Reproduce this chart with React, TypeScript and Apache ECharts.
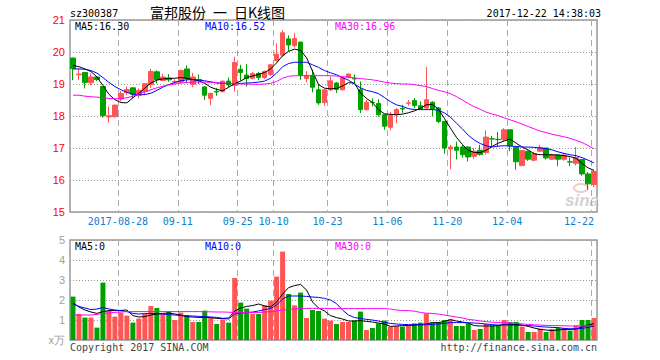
import React, { useEffect, useRef } from 'react';
import * as echarts from 'echarts';

const dates = [
  '2017-08-16','2017-08-17','2017-08-18','2017-08-21','2017-08-22','2017-08-23','2017-08-24','2017-08-25',
  '2017-08-28','2017-08-29','2017-08-30','2017-08-31','2017-09-01','2017-09-04','2017-09-05','2017-09-06','2017-09-07','2017-09-08',
  '2017-09-11','2017-09-12','2017-09-13','2017-09-14','2017-09-15','2017-09-18','2017-09-19','2017-09-20','2017-09-21','2017-09-22',
  '2017-09-25','2017-09-26','2017-09-27','2017-09-28','2017-09-29','2017-10-09',
  '2017-10-10','2017-10-11','2017-10-12','2017-10-13','2017-10-16','2017-10-17','2017-10-18','2017-10-19','2017-10-20',
  '2017-10-23','2017-10-24','2017-10-25','2017-10-26','2017-10-27','2017-10-30','2017-10-31','2017-11-01','2017-11-02','2017-11-03',
  '2017-11-06','2017-11-07','2017-11-08','2017-11-09','2017-11-10','2017-11-13','2017-11-14','2017-11-15','2017-11-16','2017-11-17',
  '2017-11-20','2017-11-21','2017-11-22','2017-11-23','2017-11-24','2017-11-27','2017-11-28','2017-11-29','2017-11-30','2017-12-01',
  '2017-12-04','2017-12-05','2017-12-06','2017-12-07','2017-12-08','2017-12-11','2017-12-12','2017-12-13','2017-12-14','2017-12-15',
  '2017-12-18','2017-12-19','2017-12-20','2017-12-21',
  '2017-12-22',
];

const labelDates = ['2017-08-28','2017-09-11','2017-09-25','2017-10-10','2017-10-23','2017-11-06','2017-11-20','2017-12-04','2017-12-22'];

const open = [
  19.81,19.29,19.36,19.04,19.22,18.92,17.97,17.98,18.53,18.73,
  18.88,18.65,18.77,18.99,19.38,19.11,19.19,19.06,19.06,19.47,
  18.99,19.14,18.91,18.55,18.77,18.76,19.09,18.95,19.46,19.28,
  19.18,19.33,19.20,19.30,19.73,19.90,20.41,20.20,20.31,19.17,
  19.27,18.82,18.42,18.82,19.03,18.82,19.20,19.17,18.82,18.20,
  18.43,18.39,18.04,17.65,18.04,18.23,18.40,18.48,18.32,18.25,
  18.43,18.25,17.83,16.97,17.03,17.03,17.03,16.74,16.93,16.86,
  17.29,17.27,17.26,17.57,17.02,16.45,16.90,16.62,16.90,17.00,
  16.65,16.78,16.65,16.57,16.52,16.64,16.19,15.86,
];
const close = [
  19.48,19.31,19.05,19.22,19.14,18.01,18.01,18.34,18.70,18.83,
  18.68,18.80,19.01,19.39,19.14,19.22,19.13,19.08,19.42,19.16,
  19.22,19.13,18.65,18.71,18.75,19.09,18.97,19.67,19.36,19.17,
  19.33,19.20,19.39,19.60,19.93,20.60,20.22,20.42,19.27,19.27,
  18.90,18.41,18.82,19.10,18.83,19.20,19.31,19.16,18.20,18.43,
  18.42,18.04,17.68,18.02,18.20,18.22,18.41,18.33,18.22,18.51,
  18.22,17.83,17.00,17.03,16.93,16.79,16.72,16.90,16.80,17.34,
  17.28,17.26,17.57,17.07,16.57,16.92,16.65,16.82,17.02,16.69,
  16.78,16.65,16.78,16.56,16.70,16.19,15.88,16.27,
];
const low = [
  19.12,19.12,18.86,18.96,19.09,17.95,17.79,17.95,18.45,18.65,
  18.55,18.55,18.65,18.88,19.02,19.09,19.07,18.98,19.00,19.02,
  18.90,19.00,18.50,18.34,18.63,18.74,18.90,18.76,19.10,18.92,
  19.15,19.12,19.16,19.25,19.70,19.85,20.03,20.15,19.13,19.05,
  18.74,18.35,18.32,18.78,18.72,18.80,19.18,19.03,18.09,18.17,
  18.30,17.98,17.57,17.55,17.78,18.10,18.32,18.24,18.20,18.20,
  17.99,17.78,16.82,16.34,16.64,16.70,16.58,16.66,16.76,16.79,
  17.03,17.03,17.22,16.90,16.32,16.43,16.60,16.58,16.87,16.64,
  16.62,16.43,16.60,16.43,16.45,16.13,15.70,15.78,
];
const high = [
  19.83,19.48,19.38,19.33,19.24,18.93,18.29,18.36,18.78,18.92,
  18.88,18.86,19.02,19.47,19.43,19.32,19.31,19.15,19.45,19.58,
  19.35,19.30,18.93,18.72,18.88,19.10,19.20,19.85,19.60,19.63,
  19.37,19.38,19.42,19.62,20.27,20.68,20.52,20.60,20.32,19.40,
  19.45,19.00,18.83,19.24,19.06,19.22,19.33,19.30,19.08,18.50,
  18.55,18.52,18.04,18.13,18.25,18.35,18.50,18.56,18.46,19.53,
  18.46,18.28,17.85,17.10,17.20,17.10,17.05,17.00,17.10,17.55,
  17.38,17.50,17.62,17.57,17.02,16.93,16.92,16.88,17.10,17.00,
  16.82,16.78,16.85,16.70,17.03,16.64,16.25,16.32,
];

const ma5 = [
  19.58,19.54,19.47,19.39,19.22,18.95,18.68,18.51,18.42,18.41,
  18.57,18.71,18.87,19.03,19.12,19.16,19.17,19.18,19.20,19.18,
  19.14,19.10,19.02,18.90,18.83,18.79,18.90,19.01,19.09,19.20,
  19.25,19.30,19.36,19.47,19.66,19.88,20.02,20.09,20.05,19.82,
  19.40,18.98,18.87,18.85,18.86,18.94,19.04,19.03,18.72,18.55,
  18.42,18.20,18.07,18.05,18.04,18.06,18.10,18.16,18.24,18.35,
  18.36,18.22,17.93,17.63,17.34,17.11,16.93,16.86,16.86,16.93,
  17.05,17.15,17.22,17.28,17.15,17.03,16.94,16.82,16.79,16.79,
  16.79,16.78,16.76,16.73,16.68,16.52,16.38,16.30,
];
const ma10 = [
  19.47,19.47,19.46,19.42,19.34,19.20,19.05,18.92,18.82,18.74,
  18.68,18.66,18.67,18.71,18.80,18.90,18.98,19.05,19.10,19.13,
  19.14,19.12,19.10,19.07,19.03,19.02,19.01,19.01,19.02,19.03,
  19.04,19.06,19.09,19.18,19.34,19.54,19.64,19.68,19.68,19.68,
  19.60,19.52,19.42,19.35,19.29,19.20,19.12,19.00,18.88,18.80,
  18.76,18.70,18.58,18.45,18.35,18.30,18.23,18.20,18.20,18.20,
  18.20,18.18,18.10,17.97,17.78,17.60,17.40,17.25,17.14,17.07,
  17.03,17.06,17.07,17.06,17.05,17.03,17.03,17.02,17.00,16.98,
  16.94,16.88,16.83,16.79,16.76,16.70,16.62,16.53,
];
const ma30 = [
  18.65,18.65,18.62,18.60,18.59,18.57,18.55,18.54,18.54,18.57,
  18.62,18.69,18.75,18.82,18.88,18.93,18.97,19.00,19.03,19.05,
  19.06,19.06,19.06,19.05,19.04,19.03,19.02,19.01,19.00,19.00,
  18.99,18.99,19.00,19.02,19.08,19.18,19.24,19.26,19.26,19.26,
  19.26,19.26,19.26,19.26,19.25,19.23,19.21,19.19,19.17,19.15,
  19.13,19.10,19.06,19.03,19.01,19.00,19.00,18.98,18.95,18.92,
  18.86,18.80,18.76,18.70,18.61,18.50,18.39,18.29,18.21,18.12,
  18.06,18.01,17.94,17.88,17.82,17.75,17.67,17.60,17.53,17.48,
  17.43,17.39,17.35,17.30,17.24,17.17,17.08,16.97,
];

const volume = [
  2.17,1.30,1.12,1.12,0.62,2.87,1.47,1.17,1.37,1.22,
  0.87,1.07,1.30,1.70,1.60,1.30,1.43,1.00,1.37,1.25,
  0.90,0.90,1.47,1.12,0.80,1.03,0.87,3.10,1.87,1.57,
  1.30,1.30,1.73,1.97,3.17,4.42,2.30,1.73,2.37,1.10,
  1.50,1.45,1.07,0.97,0.80,0.90,0.90,0.97,1.42,0.50,
  0.60,0.83,0.97,0.67,0.70,0.67,0.75,0.83,0.87,1.33,
  0.87,0.87,1.00,1.03,0.70,0.70,0.83,0.50,0.55,0.80,
  0.73,0.72,1.00,0.90,0.90,0.67,0.40,0.40,0.57,0.40,
  0.55,0.60,0.60,0.47,0.73,1.00,1.00,1.10,
];
const volMa5 = [
  1.85,1.65,1.50,1.40,1.33,1.42,1.47,1.47,1.48,1.50,
  1.22,1.15,1.17,1.25,1.30,1.33,1.35,1.30,1.25,1.17,
  1.15,1.13,1.13,1.12,1.08,1.08,1.10,1.45,1.60,1.68,
  1.72,1.80,1.70,1.65,1.90,2.30,2.62,2.72,2.78,2.50,
  1.90,1.60,1.45,1.22,1.12,1.05,0.95,0.95,0.97,0.93,
  0.90,0.85,0.80,0.68,0.70,0.72,0.72,0.75,0.77,0.80,
  0.87,0.87,0.92,1.02,0.95,0.90,0.85,0.72,0.70,0.70,
  0.70,0.72,0.78,0.78,0.78,0.75,0.68,0.60,0.53,0.50,
  0.47,0.50,0.53,0.53,0.55,0.65,0.75,0.82,
];
const volMa10 = [
  1.80,1.68,1.60,1.52,1.55,1.62,1.55,1.50,1.47,1.42,
  1.33,1.30,1.32,1.33,1.32,1.30,1.27,1.25,1.22,1.20,
  1.20,1.18,1.17,1.15,1.13,1.08,1.05,1.30,1.35,1.37,
  1.40,1.45,1.52,1.57,1.75,2.05,2.20,2.20,2.20,2.18,
  2.15,2.13,2.08,2.00,1.82,1.50,1.25,1.12,1.08,1.03,
  1.00,0.95,0.88,0.83,0.80,0.78,0.77,0.76,0.76,0.76,
  0.78,0.80,0.83,0.87,0.87,0.87,0.86,0.85,0.83,0.80,
  0.77,0.75,0.75,0.75,0.74,0.73,0.72,0.70,0.67,0.65,
  0.63,0.62,0.58,0.56,0.56,0.58,0.63,0.70,
];
const volMa30 = [
  1.25,1.25,1.25,1.25,1.28,1.33,1.35,1.38,1.40,1.42,
  1.42,1.42,1.42,1.42,1.42,1.42,1.42,1.42,1.42,1.42,
  1.42,1.42,1.41,1.41,1.40,1.40,1.39,1.37,1.37,1.37,
  1.37,1.37,1.40,1.42,1.45,1.50,1.53,1.55,1.58,1.58,
  1.58,1.58,1.58,1.57,1.57,1.57,1.57,1.57,1.57,1.57,
  1.57,1.57,1.57,1.55,1.50,1.47,1.47,1.44,1.38,1.34,
  1.33,1.30,1.25,1.20,1.15,1.10,1.03,1.00,0.95,0.92,
  0.89,0.87,0.86,0.85,0.83,0.80,0.78,0.76,0.75,0.73,
  0.72,0.72,0.71,0.70,0.70,0.70,0.71,0.73,
];

const UP = '#ff5555';
const DOWN = '#00a000';
const MONO = '"DejaVu Sans Mono", monospace';

export default function App() {
  const ref = useRef<HTMLDivElement>(null);

  useEffect(() => {
    const chart = echarts.init(ref.current as HTMLDivElement, undefined, { renderer: 'svg' });
    const candles = dates.map((_, i) => [open[i], close[i], low[i], high[i]]);
    const vols = volume.map((v, i) => ({ value: v, itemStyle: { color: close[i] >= open[i] ? UP : DOWN } }));
    const isLabel = (_i: number, v: string) => labelDates.includes(v);
    const dateFont = { fontFamily: MONO, fontSize: 10, color: '#0a82d0' };

    const splitX = { show: true, interval: isLabel, lineStyle: { type: [6, 4], color: '#aaaaaa', width: 1 } };
    const splitY = { show: true, lineStyle: { type: [1, 2], color: '#999999', width: 1 } };
    const line = (data: number[], color: string, x: number) => ({
      type: 'line', data, xAxisIndex: x, yAxisIndex: x, symbol: 'none', showSymbol: false,
      lineStyle: { width: 1, color }, itemStyle: { color }, z: 4, silent: true,
    });
    const txt = (text: string, x: number, y: number, fill: string, font: string, align = 'left') => ({
      type: 'text', x, y, silent: true,
      style: { text, fill, font, align, verticalAlign: 'middle' },
    });

    chart.setOption({
      animation: false,
      backgroundColor: '#ffffff',
      grid: [
        { left: 70, top: 20, width: 527, height: 192, show: true, borderColor: '#9a9a9a', borderWidth: 1.5 },
        { left: 70, top: 240, width: 527, height: 100, show: true, borderColor: '#9a9a9a', borderWidth: 1.5 },
      ],
      xAxis: [
        {
          type: 'category', gridIndex: 0, data: dates, boundaryGap: true,
          axisLine: { show: false }, axisTick: { show: false },
          axisLabel: {
            interval: isLabel, margin: 4, ...dateFont,
            alignMaxLabel: 'right',
            formatter: (v: string) => {
              const t = v === labelDates[0] ? v : v.slice(5);
              return v === labelDates[labelDates.length - 1] ? `{e|${t}}` : `{c|${t}}`;
            },
            rich: { c: { ...dateFont, padding: [0, 6, 0, 0] }, e: { ...dateFont } },
          },
          splitLine: splitX,
        },
        {
          type: 'category', gridIndex: 1, data: dates, boundaryGap: true,
          axisLine: { show: false }, axisTick: { show: false }, axisLabel: { show: false },
          splitLine: splitX,
        },
      ],
      yAxis: [
        {
          type: 'value', gridIndex: 0, min: 15, max: 21, interval: 1,
          axisLine: { show: false }, axisTick: { show: false },
          axisLabel: { color: '#ff0000', fontSize: 11, fontFamily: '"Liberation Sans", Arial', margin: 5 },
          splitLine: splitY,
        },
        {
          type: 'value', gridIndex: 1, min: 0, max: 5, interval: 1,
          axisLine: { show: false }, axisTick: { show: false },
          axisLabel: {
            color: '#a0a0a0', fontSize: 11, fontFamily: '"Liberation Sans", Arial', margin: 5,
            formatter: (v: number) => (v === 0 ? 'x万' : String(v)),
          },
          splitLine: splitY,
        },
      ],
      series: [
        {
          type: 'candlestick', xAxisIndex: 0, yAxisIndex: 0, data: candles, barWidth: 5, silent: true,
          itemStyle: { color: UP, color0: DOWN, borderColor: UP, borderColor0: DOWN, borderWidth: 1 },
          z: 3,
        },
        line(ma5, '#000000', 0),
        line(ma10, '#0000ff', 0),
        line(ma30, '#ff00ff', 0),
        { type: 'bar', xAxisIndex: 1, yAxisIndex: 1, data: vols, barWidth: 5, silent: true, z: 3 },
        line(volMa5, '#000000', 1),
        line(volMa10, '#0000ff', 1),
        line(volMa30, '#ff00ff', 1),
      ],
      graphic: [
        txt('sz300387', 70, 13, '#000', `10px ${MONO}`),
        txt('富邦股份\u2002一\u2002日K线图', 150, 12, '#000', '14px "Noto Sans CJK SC"'),
        txt('2017-12-22 14:38:03', 601, 13, '#000', `10px ${MONO}`, 'right'),
        txt('MA5:16.30', 75, 26, '#000000', `10px ${MONO}`),
        txt('MA10:16.52', 205, 26, '#0000ff', `10px ${MONO}`),
        txt('MA30:16.96', 335, 26, '#ff00ff', `10px ${MONO}`),
        txt('MA5:0', 75, 246, '#000000', `10px ${MONO}`),
        txt('MA10:0', 205, 246, '#0000ff', `10px ${MONO}`),
        txt('MA30:0', 335, 246, '#ff00ff', `10px ${MONO}`),
        txt('Copyright 2017 SINA.COM', 70, 347, '#444', `10px ${MONO}`),
        txt('http://finance.sina.com.cn', 597, 347, '#444', `10px ${MONO}`, 'right'),
        {
          type: 'ellipse', silent: true, z: 1,
          shape: { cx: 581, cy: 188, rx: 7, ry: 4 },
          style: { fill: 'none', stroke: '#f2caca', lineWidth: 2 },
        },
        txt('sina', 565, 200, '#d2d2d2', 'italic bold 17px "Liberation Sans", Arial'),
      ],
    });
    return () => chart.dispose();
  }, []);

  return <div ref={ref} style={{ position: 'absolute', left: 0, top: 0, width: 660, height: 360, background: '#fff' }} />;
}
